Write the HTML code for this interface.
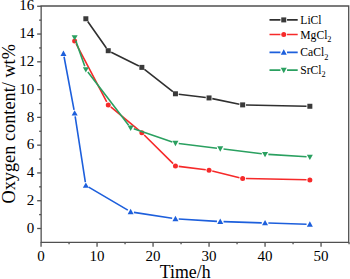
<!DOCTYPE html>
<html><head><meta charset="utf-8"><style>
html,body{margin:0;padding:0;background:#fff;}
body{width:350px;height:279px;overflow:hidden;}
svg{display:block;}
text{font-family:"Liberation Serif",serif;fill:#000;}
</style></head><body>
<svg width="350" height="279" viewBox="0 0 350 279">
<path d="M41.15,6.00 H348.70 V242.30 H41.15 Z" fill="none" stroke="#505050" stroke-width="1.3"/>
<line x1="37.15" y1="228.50" x2="41.15" y2="228.50" stroke="#505050" stroke-width="1.3"/>
<line x1="37.15" y1="200.72" x2="41.15" y2="200.72" stroke="#505050" stroke-width="1.3"/>
<line x1="37.15" y1="172.94" x2="41.15" y2="172.94" stroke="#505050" stroke-width="1.3"/>
<line x1="37.15" y1="145.16" x2="41.15" y2="145.16" stroke="#505050" stroke-width="1.3"/>
<line x1="37.15" y1="117.38" x2="41.15" y2="117.38" stroke="#505050" stroke-width="1.3"/>
<line x1="37.15" y1="89.60" x2="41.15" y2="89.60" stroke="#505050" stroke-width="1.3"/>
<line x1="37.15" y1="61.82" x2="41.15" y2="61.82" stroke="#505050" stroke-width="1.3"/>
<line x1="37.15" y1="34.04" x2="41.15" y2="34.04" stroke="#505050" stroke-width="1.3"/>
<line x1="37.15" y1="6.26" x2="41.15" y2="6.26" stroke="#505050" stroke-width="1.3"/>
<line x1="39.15" y1="214.61" x2="41.15" y2="214.61" stroke="#505050" stroke-width="1.3"/>
<line x1="39.15" y1="186.83" x2="41.15" y2="186.83" stroke="#505050" stroke-width="1.3"/>
<line x1="39.15" y1="159.05" x2="41.15" y2="159.05" stroke="#505050" stroke-width="1.3"/>
<line x1="39.15" y1="131.27" x2="41.15" y2="131.27" stroke="#505050" stroke-width="1.3"/>
<line x1="39.15" y1="103.49" x2="41.15" y2="103.49" stroke="#505050" stroke-width="1.3"/>
<line x1="39.15" y1="75.71" x2="41.15" y2="75.71" stroke="#505050" stroke-width="1.3"/>
<line x1="39.15" y1="47.93" x2="41.15" y2="47.93" stroke="#505050" stroke-width="1.3"/>
<line x1="39.15" y1="20.15" x2="41.15" y2="20.15" stroke="#505050" stroke-width="1.3"/>
<line x1="41.05" y1="242.30" x2="41.05" y2="246.80" stroke="#505050" stroke-width="1.3"/>
<line x1="97.05" y1="242.30" x2="97.05" y2="246.80" stroke="#505050" stroke-width="1.3"/>
<line x1="153.05" y1="242.30" x2="153.05" y2="246.80" stroke="#505050" stroke-width="1.3"/>
<line x1="209.05" y1="242.30" x2="209.05" y2="246.80" stroke="#505050" stroke-width="1.3"/>
<line x1="265.05" y1="242.30" x2="265.05" y2="246.80" stroke="#505050" stroke-width="1.3"/>
<line x1="321.05" y1="242.30" x2="321.05" y2="246.80" stroke="#505050" stroke-width="1.3"/>
<line x1="69.05" y1="242.30" x2="69.05" y2="244.30" stroke="#505050" stroke-width="1.3"/>
<line x1="125.05" y1="242.30" x2="125.05" y2="244.30" stroke="#505050" stroke-width="1.3"/>
<line x1="181.05" y1="242.30" x2="181.05" y2="244.30" stroke="#505050" stroke-width="1.3"/>
<line x1="237.05" y1="242.30" x2="237.05" y2="244.30" stroke="#505050" stroke-width="1.3"/>
<line x1="293.05" y1="242.30" x2="293.05" y2="244.30" stroke="#505050" stroke-width="1.3"/>
<line x1="349.05" y1="242.30" x2="349.05" y2="244.30" stroke="#505050" stroke-width="1.3"/>
<text x="34.2" y="232.70" text-anchor="end" font-size="15">0</text>
<text x="34.2" y="204.92" text-anchor="end" font-size="15">2</text>
<text x="34.2" y="177.14" text-anchor="end" font-size="15">4</text>
<text x="34.2" y="149.36" text-anchor="end" font-size="15">6</text>
<text x="34.2" y="121.58" text-anchor="end" font-size="15">8</text>
<text x="34.2" y="93.80" text-anchor="end" font-size="15">10</text>
<text x="34.2" y="66.02" text-anchor="end" font-size="15">12</text>
<text x="34.2" y="38.24" text-anchor="end" font-size="15">14</text>
<text x="34.2" y="10.46" text-anchor="end" font-size="15">16</text>
<text x="41.05" y="260.9" text-anchor="middle" font-size="15">0</text>
<text x="97.05" y="260.9" text-anchor="middle" font-size="15">10</text>
<text x="153.05" y="260.9" text-anchor="middle" font-size="15">20</text>
<text x="209.05" y="260.9" text-anchor="middle" font-size="15">30</text>
<text x="265.05" y="260.9" text-anchor="middle" font-size="15">40</text>
<text x="321.05" y="260.9" text-anchor="middle" font-size="15">50</text>
<text transform="translate(185.2,277.5) scale(1,1.11)" text-anchor="middle" font-size="17.8">Time/h</text>
<text transform="translate(14.6,123.8) rotate(-90) scale(1,1.07)" text-anchor="middle" font-size="18.3">Oxygen content/ wt%</text>
<path d="M87.74,21.46L106.36,48.01M111.21,52.17L138.89,65.91M144.45,69.41L172.85,91.73M178.72,94.17L205.78,97.53M212.28,98.60L239.42,104.21M245.95,104.95L306.55,106.20" fill="none" stroke="#303030" stroke-width="1.6"/>
<rect x="83.35" y="16.26" width="5.00" height="5.00" fill="#3a3a3a"/>
<rect x="105.75" y="48.21" width="5.00" height="5.00" fill="#3a3a3a"/>
<rect x="139.35" y="64.88" width="5.00" height="5.00" fill="#3a3a3a"/>
<rect x="172.95" y="91.27" width="5.00" height="5.00" fill="#3a3a3a"/>
<rect x="206.55" y="95.43" width="5.00" height="5.00" fill="#3a3a3a"/>
<rect x="240.15" y="102.38" width="5.00" height="5.00" fill="#3a3a3a"/>
<rect x="307.35" y="103.77" width="5.00" height="5.00" fill="#3a3a3a"/>
<path d="M76.19,43.91L106.71,101.96M110.79,106.98L139.31,130.56M144.19,134.98L173.11,163.67M178.72,166.40L205.78,169.76M212.25,170.96L239.45,177.70M245.95,178.56L306.55,179.82" fill="none" stroke="#f62a2a" stroke-width="1.6"/>
<circle cx="74.65" cy="40.98" r="2.5" fill="#f62a2a"/>
<circle cx="108.25" cy="104.88" r="2.5" fill="#f62a2a"/>
<circle cx="141.85" cy="132.66" r="2.5" fill="#f62a2a"/>
<circle cx="175.45" cy="166.00" r="2.5" fill="#f62a2a"/>
<circle cx="209.05" cy="170.16" r="2.5" fill="#f62a2a"/>
<circle cx="242.65" cy="178.50" r="2.5" fill="#f62a2a"/>
<circle cx="309.85" cy="179.88" r="2.5" fill="#f62a2a"/>
<path d="M64.06,56.73L74.04,109.97M75.16,116.47L85.34,182.18M88.69,187.12L127.81,210.16M133.91,212.34L172.19,218.27M178.74,218.98L216.96,221.35M223.55,221.66L261.75,222.84M268.35,223.05L306.55,224.23" fill="none" stroke="#1d5fdc" stroke-width="1.6"/>
<path d="M60.45,55.89 L66.45,55.89 L63.45,50.49 Z" fill="#1d5fdc"/>
<path d="M71.65,115.61 L77.65,115.61 L74.65,110.21 Z" fill="#1d5fdc"/>
<path d="M82.85,187.84 L88.85,187.84 L85.85,182.44 Z" fill="#1d5fdc"/>
<path d="M127.65,214.23 L133.65,214.23 L130.65,208.83 Z" fill="#1d5fdc"/>
<path d="M172.45,221.18 L178.45,221.18 L175.45,215.78 Z" fill="#1d5fdc"/>
<path d="M217.25,223.96 L223.25,223.96 L220.25,218.56 Z" fill="#1d5fdc"/>
<path d="M262.05,225.34 L268.05,225.34 L265.05,219.94 Z" fill="#1d5fdc"/>
<path d="M306.85,226.73 L312.85,226.73 L309.85,221.33 Z" fill="#1d5fdc"/>
<path d="M75.74,40.63L84.76,66.35M87.86,72.08L128.64,125.18M133.77,128.86L172.33,142.01M178.72,143.48L216.98,148.23M223.52,149.04L261.78,153.78M268.34,154.39L306.56,156.76" fill="none" stroke="#2aa060" stroke-width="1.6"/>
<path d="M71.65,35.21 L77.65,35.21 L74.65,40.61 Z" fill="#2aa060"/>
<path d="M82.85,67.16 L88.85,67.16 L85.85,72.56 Z" fill="#2aa060"/>
<path d="M127.65,125.50 L133.65,125.50 L130.65,130.90 Z" fill="#2aa060"/>
<path d="M172.45,140.78 L178.45,140.78 L175.45,146.18 Z" fill="#2aa060"/>
<path d="M217.25,146.33 L223.25,146.33 L220.25,151.73 Z" fill="#2aa060"/>
<path d="M262.05,151.89 L268.05,151.89 L265.05,157.29 Z" fill="#2aa060"/>
<path d="M306.85,154.67 L312.85,154.67 L309.85,160.07 Z" fill="#2aa060"/>
<path d="M269.5,19.9H280.45M287.05,19.9H297.7" stroke="#303030" stroke-width="1.6"/>
<rect x="281.25" y="17.40" width="5.00" height="5.00" fill="#3a3a3a"/>
<text x="300.3" y="23.9" font-size="11.6">LiCl</text>
<path d="M269.5,34.5H280.45M287.05,34.5H297.7" stroke="#f62a2a" stroke-width="1.6"/>
<circle cx="283.75" cy="34.50" r="2.5" fill="#f62a2a"/>
<text x="300.3" y="38.9" font-size="11.6">MgCl<tspan font-size="8.3" dy="3.4">2</tspan></text>
<path d="M269.5,52.35H280.45M287.05,52.35H297.7" stroke="#1d5fdc" stroke-width="1.6"/>
<path d="M280.75,54.75 L286.75,54.75 L283.75,49.35 Z" fill="#1d5fdc"/>
<text x="300.3" y="56.3" font-size="11.6">CaCl<tspan font-size="8.3" dy="3.4">2</tspan></text>
<path d="M269.5,70.15H280.45M287.05,70.15H297.7" stroke="#2aa060" stroke-width="1.6"/>
<path d="M280.75,67.85 L286.75,67.85 L283.75,73.25 Z" fill="#2aa060"/>
<text x="300.3" y="73.9" font-size="11.6">SrCl<tspan font-size="8.3" dy="3.4">2</tspan></text>
</svg>
</body></html>
